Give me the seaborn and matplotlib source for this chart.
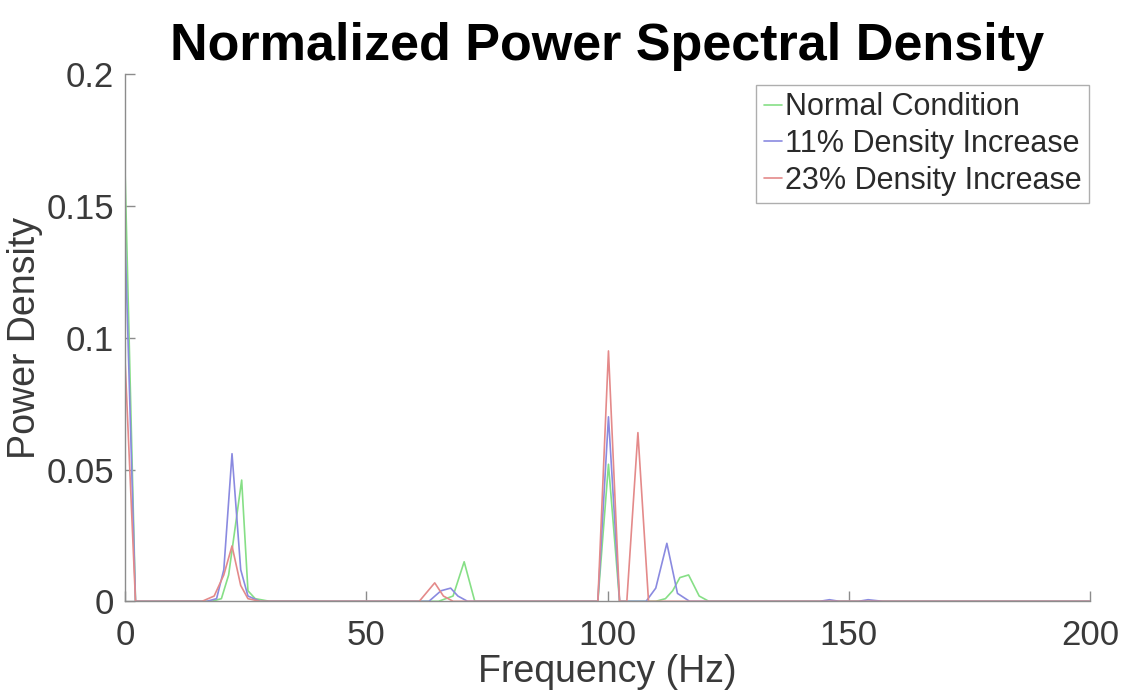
import numpy                as np
import pandas               as pd
import seaborn              as sns
import matplotlib.pyplot    as plt

# ======================================================================== DATA ========================================================================

SERIES_NAMES = ["Normal Condition", "11% Density Increase", "23% Density Increase"]

# Normal condition (frequency in Hz, normalized power)
normal_freq  = [0, 2.2, 18, 20, 21.5, 24.2, 25.5, 27, 30, 65, 68, 70.3, 72.5,
                98, 100.2, 102.5, 110, 112, 113.5, 115, 116.8, 119, 121, 200]
normal_power = [0.166, 0, 0, 0.001, 0.010, 0.046, 0.004, 0.001, 0, 0, 0.002, 0.015, 0,
                0, 0.052, 0, 0, 0.001, 0.004, 0.009, 0.010, 0.002, 0, 0]

# 11% density increase
d11_freq  = [0, 2.2, 17, 19, 20.5, 22.2, 24, 25.5, 28, 63, 65.5, 67.5, 69, 71,
             98, 100.2, 102.5, 108, 110, 112.3, 114.5, 117, 144, 146, 148, 152, 154, 157, 200]
d11_power = [0.141, 0, 0, 0.001, 0.012, 0.056, 0.012, 0.002, 0, 0, 0.004, 0.005, 0.002, 0,
             0, 0.070, 0, 0, 0.005, 0.022, 0.003, 0, 0, 0.0006, 0, 0, 0.0006, 0, 0]

# 23% density increase
d23_freq  = [0, 2.2, 16, 18.5, 20.5, 22.2, 24, 25.5, 28, 61, 64.2, 66, 68,
             98, 100.2, 102.5, 104, 106.3, 108.5, 200]
d23_power = [0.093, 0, 0, 0.002, 0.010, 0.021, 0.006, 0.001, 0, 0, 0.007, 0.002, 0,
             0, 0.095, 0, 0, 0.064, 0, 0]

X_TICKS  = [0, 50, 100, 150, 200]
Y_TICKS  = [0, 0.05, 0.1, 0.15, 0.2]
Y_LABELS = ["0", "0.05", "0.1", "0.15", "0.2"]

COLORS = ["#86df86", "#8a8ae0", "#e48a8a"]

# ======================================================================== BUILD FRAME ========================================================================

frames = []
for name, f, p in zip(SERIES_NAMES, [normal_freq, d11_freq, d23_freq], [normal_power, d11_power, d23_power]):
    frames.append(pd.DataFrame({"Frequency": f, "Power": p, "Series": name}))
data = pd.concat(frames, ignore_index=True)

# ======================================================================== PLOT ========================================================================

sns.set_theme(style="ticks")
plt.rcParams["font.family"] = ["Liberation Sans", "DejaVu Sans"]

fig = plt.figure(figsize=(11.25, 7), dpi=100)
ax = fig.add_axes([0.111, 0.141, 0.858, 0.753])

sns.lineplot(data=data, x="Frequency", y="Power", hue="Series", hue_order=SERIES_NAMES,
             palette=COLORS, linewidth=1.2, estimator=None, sort=True, ax=ax)

ax.set_xlim(0, 200)
ax.set_ylim(0, 0.2)
ax.set_xticks(X_TICKS)
ax.set_xticklabels([str(x) for x in X_TICKS])
ax.set_yticks(Y_TICKS)
ax.set_yticklabels(Y_LABELS)

for side in ["top", "right"]:
    ax.spines[side].set_visible(False)
for side in ["left", "bottom"]:
    ax.spines[side].set_color("#8c8c8c")
    ax.spines[side].set_linewidth(1.0)

ax.tick_params(direction="in", length=7, width=1.0, color="#8c8c8c",
               labelsize=25, labelcolor="#3a3a3a")
ax.tick_params(axis="x", pad=13)
ax.tick_params(axis="y", pad=8)

ax.set_xlabel("Frequency (Hz)", fontsize=27, color="#3a3a3a", labelpad=1)
ax.set_ylabel("Power Density", fontsize=27, color="#3a3a3a", labelpad=2)
ax.set_title("Normalized Power Spectral Density", fontsize=37.5, fontweight="bold",
             color="black", pad=10)

legend = ax.legend(loc="upper right", bbox_to_anchor=(0.999, 0.98), fontsize=22,
                   handlelength=0.6, handletextpad=0.1, borderpad=0.25,
                   labelspacing=0.22, fancybox=False, frameon=True, borderaxespad=0.0)
legend.get_frame().set_edgecolor("#9a9a9a")
legend.get_frame().set_linewidth(1.0)
for txt in legend.get_texts():
    txt.set_color("#2a2a2a")

plt.savefig("out.png", dpi=100)
